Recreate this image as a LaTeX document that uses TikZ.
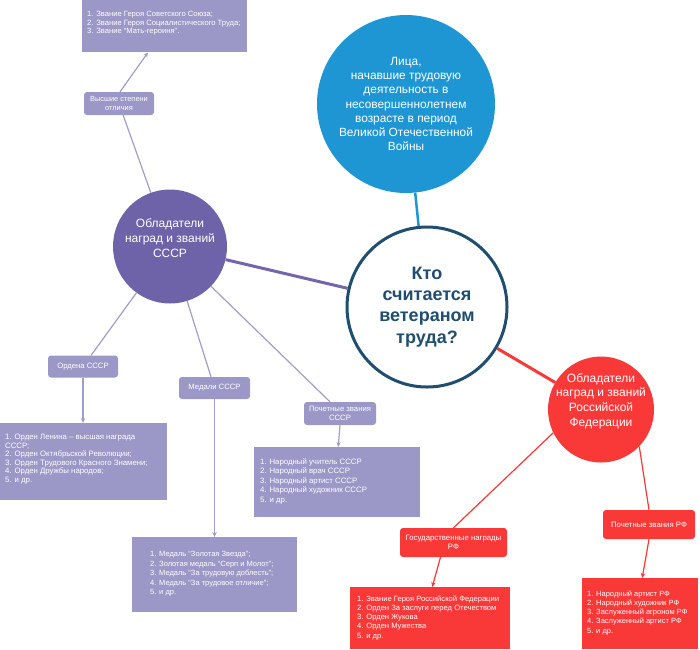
\documentclass[tikz,border=0pt]{standalone}
\usepackage{fontspec}
\setmainfont{Liberation Sans}
\usetikzlibrary{calc,arrows.meta}
\definecolor{lav}{HTML}{9B98C7}
\definecolor{lavline}{HTML}{A19DCB}
\definecolor{purpC}{HTML}{6E62A8}
\definecolor{purpL}{HTML}{7466AC}
\definecolor{blueC}{HTML}{1E96D4}
\definecolor{centC}{HTML}{1F4E6F}
\definecolor{redC}{HTML}{F93838}
\begin{document}
\begin{tikzpicture}[x=1pt,y=-1pt,
  lbox/.style={fill=#1, rounded corners=3pt, text=white, align=center, inner sep=0pt,
    font=\fontsize{7.7}{9}\selectfont},
  listbox/.style={fill=#1, inner sep=0pt, anchor=north west},
  listtext/.style={anchor=north west, inner sep=0pt, text=white, align=left},
  thinln/.style={draw=#1, line width=1.2pt},
  arr/.style={draw=#1, line width=1.2pt, -{Stealth[length=5pt,width=4.5pt]}},
  circtext/.style={text=white, align=center, inner sep=0pt, font=\fontsize{12}{14.7}\selectfont}
]
\useasboundingbox (0,0) rectangle (700,649);

% circles
\node[circle, draw=centC, line width=3pt, fill=white, minimum size=160pt, inner sep=0pt,
  text=centC, align=center, font=\fontsize{18}{21.3}\selectfont\bfseries] (center) at (427,307) {Кто\\считается\\ветераном\\труда?};
\node[circle, fill=blueC, minimum size=178pt, inner sep=0pt, text=white, align=center,
  font=\fontsize{11.9}{14.2}\selectfont] (blue) at (406,104)
  {Лица,\\начавшие трудовую\\деятельность в\\несовершеннолетнем\\возрасте в период\\Великой Отечественной\\Войны};
\node[circle, fill=purpC, minimum size=114pt, inner sep=0pt] (purple) at (170,246.5) {};
\node[circtext] (ptext) at (170,238) {Обладатели\\наград и званий\\СССР};
\node[circle, fill=redC, minimum size=106pt, inner sep=0pt] (red) at (601,409.5) {};
\node[circtext] (rtext) at (601,401) {Обладатели\\наград и званий\\Российской\\Федерации};

% main connectors
\draw[blueC, line width=2.5pt] (blue) -- (center);
\draw[purpL, line width=3pt] (purple) -- (center);
\draw[redC, line width=3pt] (center) -- (red);

% USSR side boxes
\node[listbox=lav, minimum width=165pt, minimum height=52pt] (topbox) at (82,0) {};
\node[listtext, font=\fontsize{7.6}{8.5}\selectfont] (toptext) at (87,11.3)
  {1. Звание Героя Советского Союза;\\2. Звание Героя Социалистического Труда;\\3. Звание “Мать-героиня”.};
\node[lbox=lav, minimum width=70pt, minimum height=23pt, font=\fontsize{7.4}{8.7}\selectfont] (vys) at (119,103.5) {Высшие степени\\отличия};

\node[lbox=lav, minimum width=70pt, minimum height=22pt] (ord) at (83,366.5) {Ордена СССР};
\node[listbox=lav, minimum width=167pt, minimum height=77pt] (ordlist) at (0,423) {};
\node[listtext, font=\fontsize{7.8}{8.5}\selectfont] (ordtext) at (5,434.3)
  {1. Орден Ленина – высшая награда\\СССР;\\2. Орден Октябрьской Революции;\\3. Орден Трудового Красного Знамени;\\4. Орден Дружбы народов;\\5. и др.};

\node[lbox=lav, minimum width=71pt, minimum height=22pt] (med) at (214.5,388) {Медали СССР};
\node[listbox=lav, minimum width=165pt, minimum height=75pt] (medlist) at (132,537) {};
\node[listtext, font=\fontsize{7.5}{9.5}\selectfont] (medtext) at (150,551.5)
  {1. Медаль “Золотая Звезда”;\\2. Золотая медаль “Серп и Молот”;\\3. Медаль “За трудовую доблесть”;\\4. Медаль “За трудовое отличие”;\\5. и др.};

\node[lbox=lav, minimum width=72pt, minimum height=23pt] (pch) at (340,413.5) {Почетные звания\\СССР};
\node[listbox=lav, minimum width=166pt, minimum height=70pt] (pchlist) at (254,447) {};
\node[listtext, font=\fontsize{7.8}{9.5}\selectfont] (pchtext) at (260,458.3)
  {1. Народный учитель СССР\\2. Народный врач СССР\\3. Народный артист СССР\\4. Народный художник СССР\\5. и др.};

% RF side boxes
\node[lbox=redC, minimum width=107pt, minimum height=29pt, font=\fontsize{7.8}{9.5}\selectfont] (gos) at (453.5,542.5) {Государственные награды\\РФ};
\node[listbox=redC, minimum width=160pt, minimum height=62pt] (goslist) at (350,587) {};
\node[listtext, font=\fontsize{7.6}{9.25}\selectfont] (gostext) at (357,595.3)
  {1. Звание Героя Российской Федерации\\2. Орден За заслуги перед Отечеством\\3. Орден Жукова\\4. Орден Мужества\\5. и др.};

\node[lbox=redC, minimum width=92pt, minimum height=29pt, font=\fontsize{7.8}{9.5}\selectfont] (prf) at (649,524.5) {Почетные звания РФ};
\node[listbox=redC, minimum width=116pt, minimum height=71pt] (prflist) at (582,578) {};
\node[listtext, font=\fontsize{7.5}{9.25}\selectfont] (prftext) at (587,590.3)
  {1. Народный артист РФ\\2. Народный художник РФ\\3. Заслуженный агроном РФ\\4. Заслуженный артист РФ\\5. и др.};

% thin connectors
\draw[thinln=lavline] (purple) -- (vys);
\draw[arr=lavline] ($(vys.north)+(1,0)$) -- ($(topbox.south west)+(66,0)$);
\draw[thinln=lavline] (purple) -- (ord);
\draw[arr=lavline] (ord.south) -- (ord.south |- ordlist.north);
\draw[thinln=lavline] (purple) -- (med);
\draw[arr=lavline] (med.south) -- (med.south |- medlist.north);
\draw[thinln=lavline] (purple) -- ($(pch.north)+(-10,0)$);
\draw[arr=lavline] (pch.south) -- ($(pchlist.north)+(1,0)$);

\draw[thinln=redC] (red.206) -- (gos.north);
\draw[arr=redC] ($(gos.south)+(-13,0)$) -- ($(goslist.north)+(2,0)$);
\draw[thinln=redC] (red.-44) -- (prf.north);
\draw[arr=redC] (prf.south) -- ($(prflist.north)+(2,0)$);
\end{tikzpicture}
\end{document}
